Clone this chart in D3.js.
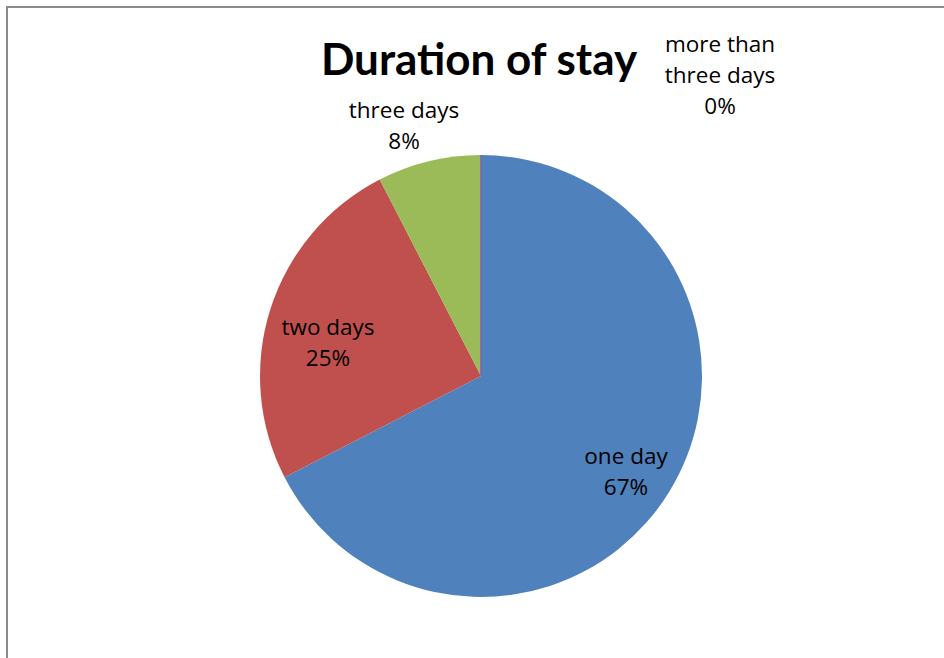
<!DOCTYPE html>
<html>
<head>
<meta charset="utf-8">
<script src="https://cdn.jsdelivr.net/npm/d3@7"></script>
<style>
  html, body { margin: 0; padding: 0; background: #fff; }
  svg { display: block; }
  text { fill: #000; }
</style>
</head>
<body>
<svg id="chart" width="944" height="658"></svg>
<script>
const categories = ["one day", "two days", "three days", "more than three days"];
const counts = [89, 33, 10, 0];
const colors = ["#4F81BD", "#C0504D", "#9BBB59", "#8064A2"];
const title = "Duration of stay";

// label layout: lines and anchor positions (center x, first baseline)
const labelLines = [["one day"], ["two days"], ["three days"], ["more than", "three days"]];
const labelPos = [[626, 464], [328, 335], [404, 118], [720, 52]];

const svg = d3.select("#chart");

// frame
svg.append("rect")
  .attr("x", 7).attr("y", 7)
  .attr("width", 1000).attr("height", 700)
  .attr("fill", "none")
  .attr("stroke", "#8a8a8a")
  .attr("stroke-width", 2);

const cx = 481, cy = 376, r = 221;
const total = d3.sum(counts);
const pie = d3.pie().sort(null).value(d => d)(counts);
const arc = d3.arc().innerRadius(0).outerRadius(r);

const g = svg.append("g").attr("transform", `translate(${cx},${cy})`);
g.selectAll("path").data(pie).join("path")
  .attr("d", arc)
  .attr("fill", (d, i) => colors[i])
  .attr("stroke", (d, i) => d.value === 0 ? colors[i] : "none")
  .attr("stroke-width", 1);

// title
svg.append("text")
  .attr("x", 479).attr("y", 75)
  .attr("text-anchor", "middle")
  .attr("font-family", "Lato, 'Open Sans', sans-serif")
  .attr("font-size", 44)
  .attr("font-weight", "bold")
  .text(title);

// labels
const fmt = v => Math.round(v / total * 100) + "%";
const lh = 31;
categories.forEach((c, i) => {
  const lines = labelLines[i].concat([fmt(counts[i])]);
  const t = svg.append("text")
    .attr("text-anchor", "middle")
    .attr("font-family", "'Open Sans', Lato, sans-serif")
    .attr("font-size", 22.5);
  lines.forEach((ln, k) => {
    t.append("tspan")
      .attr("x", labelPos[i][0])
      .attr("y", labelPos[i][1] + k * lh)
      .text(ln);
  });
});
</script>
</body>
</html>
